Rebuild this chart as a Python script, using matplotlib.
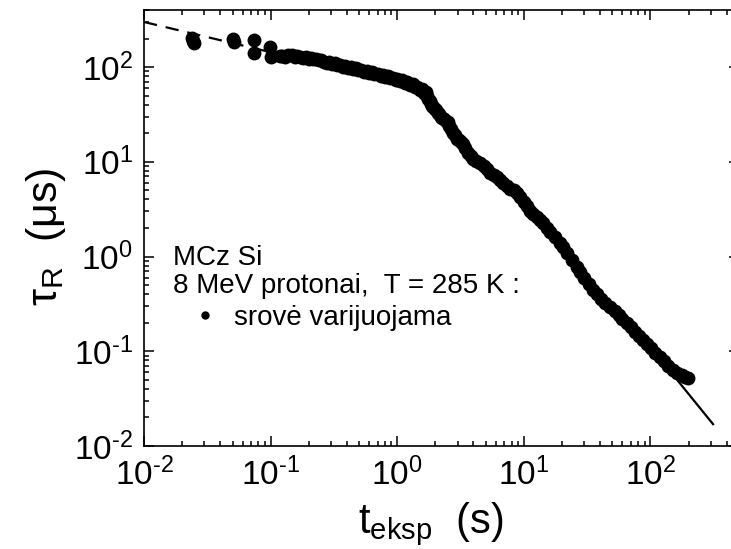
import numpy as np
import matplotlib
matplotlib.use("Agg")
import matplotlib.pyplot as plt
from matplotlib.lines import Line2D
from matplotlib.ticker import LogLocator, NullFormatter, FuncFormatter

plt.rcParams['font.family'] = ['Liberation Sans', 'DejaVu Sans']
plt.rcParams['mathtext.fontset'] = 'custom'
plt.rcParams['mathtext.rm'] = 'Liberation Sans'
plt.rcParams['mathtext.it'] = 'Liberation Sans:italic'
plt.rcParams['mathtext.default'] = 'regular'
plt.rcParams['axes.unicode_minus'] = False

# measured points: exposure time (s) vs recombination lifetime (us)
t_eksp = [0.024, 0.0245, 0.025, 0.050, 0.051, 0.074, 0.074, 0.099, 0.100,
          0.118, 0.123, 0.13, 0.138, 0.148, 0.155, 0.163, 0.171, 0.18, 0.19,
          0.2, 0.21, 0.216, 0.228, 0.24, 0.25, 0.265, 0.279, 0.29, 0.305,
          0.32, 0.335, 0.353, 0.37, 0.39, 0.41, 0.43, 0.448, 0.47, 0.49,
          0.52, 0.55, 0.578, 0.6, 0.63, 0.66, 0.7, 0.74, 0.773, 0.8, 0.84,
          0.88, 0.93, 0.97, 1.0, 1.05, 1.1, 1.15, 1.2, 1.26, 1.32, 1.38,
          1.43, 1.5, 1.57, 1.62, 1.68, 1.72, 1.76, 1.8, 1.84, 1.88, 1.92,
          1.97, 2.02, 2.08, 2.14, 2.2, 2.27, 2.35, 2.42, 2.5, 2.58, 2.66,
          2.75, 2.85, 2.95, 3.05, 3.18, 3.31, 3.45, 3.6, 3.8, 4.0, 4.2, 4.5,
          4.8, 5.1, 5.4, 5.8, 6.14, 6.5, 6.9, 7.3, 7.8, 8.3, 8.83, 9.4, 10.0,
          10.6, 11.2, 11.9, 12.7, 13.5, 14.2, 15.1, 16.2, 17.5, 19.3, 20.5,
          22, 24, 26.3, 28, 30, 32.5, 35.2, 38, 41, 44, 48, 52, 56, 60, 65.3,
          70, 75, 81, 87.5, 94, 101, 109, 119, 128, 138, 151, 163, 176, 188,
          198]
tau_R = [205, 190, 180, 200, 185, 193, 141, 163, 128,
         130, 131, 127, 133, 134, 128, 131, 127, 125, 128,
         123, 126, 121, 122, 118, 120, 114, 111, 113, 107,
         109, 104, 105, 101, 103, 98, 100, 96, 97, 92,
         94, 89, 90, 86, 88, 84, 85, 80, 83, 79, 80,
         76, 77, 73, 75, 71, 73, 68, 69, 65, 66, 61,
         62, 57, 58, 53, 54, 50, 46, 44, 41, 39, 38,
         36, 35, 33, 32, 30, 29, 28, 27, 26, 24, 22,
         20, 19, 17.5, 17, 16, 15.5, 14, 12.5, 11.5, 10.8, 10.2, 9.7,
         9.0, 8.3, 7.7, 7.3, 6.9, 6.4, 6.0, 5.6, 5.2, 5.0, 4.66, 4.2, 3.8,
         3.4, 3.0, 2.8, 2.61, 2.4, 2.25, 2.0, 1.8, 1.6, 1.39, 1.25,
         1.08, 0.93, 0.78, 0.68, 0.6, 0.51, 0.44, 0.4, 0.36, 0.32, 0.292, 0.265, 0.24, 0.22, 0.2,
         0.18, 0.16, 0.145, 0.131, 0.118, 0.107, 0.097, 0.0876, 0.078, 0.07, 0.0637, 0.059, 0.056, 0.053,
         0.0525]

# power-law guide lines (end points)
early_t = [0.01, 0.3]
early_tau = [299, 101]
late_t = [80, 312]
late_tau = [0.16, 0.017]

fig = plt.figure(figsize=(7.31, 5.49), dpi=100)
ax = fig.add_axes([144 / 731, 1 - 446 / 549, (739 - 144) / 731, (446 - 10) / 549])

ax.plot(early_t, early_tau, color='k', lw=1.6, dashes=(6, 4))
ax.plot(late_t, late_tau, color='k', lw=1.6)
ax.plot(t_eksp, tau_R, 'o', color='k', ms=10, mew=0)

ax.set_xscale('log')
ax.set_yscale('log')
ax.set_xlim(0.01, 500)
ax.set_ylim(0.01, 400)


def dec_label(v, pos):
    e = int(round(np.log10(v)))
    s = r'\text{-}%d' % -e if e < 0 else '%d' % e
    return r'$10^{%s}$' % s


for a in (ax.xaxis, ax.yaxis):
    a.set_minor_locator(LogLocator(base=10, subs=np.arange(2, 10), numticks=20))
    a.set_minor_formatter(NullFormatter())
    a.set_major_formatter(FuncFormatter(dec_label))
ax.tick_params(which='both', direction='in', top=True, right=True, width=1.1, labelsize=24)
ax.tick_params(which='major', length=7)
ax.tick_params(which='minor', length=3.5)
ax.tick_params(axis='x', pad=8)
ax.tick_params(axis='y', pad=8)
for s in ax.spines.values():
    s.set_linewidth(1.2)

ax.set_xlabel(r'$t_{eksp}$  (s)', fontsize=30)
ax.xaxis.set_label_coords(0.482, -0.125)
ax.set_ylabel('τ$_R$  (μs)', fontsize=31)
ax.yaxis.set_label_coords(-0.128, 0.479)

fig.text(173 / 731, 1 - 265 / 549, 'MCz Si', fontsize=20, va='baseline')
fig.text(173 / 731, 1 - 293 / 549, '8 MeV protonai,  T = 285 K :', fontsize=20, va='baseline')
h = Line2D([], [], ls='', marker='o', color='k', ms=5)
ax.legend(handles=[h], labels=['srovė varijuojama'], frameon=False, fontsize=20,
          loc='upper left', bbox_to_anchor=(191 / 731, 1 - 305 / 549),
          bbox_transform=fig.transFigure, borderpad=0, borderaxespad=0,
          handlelength=1.0, handletextpad=0.55)

fig.savefig('out.png', dpi=100)
